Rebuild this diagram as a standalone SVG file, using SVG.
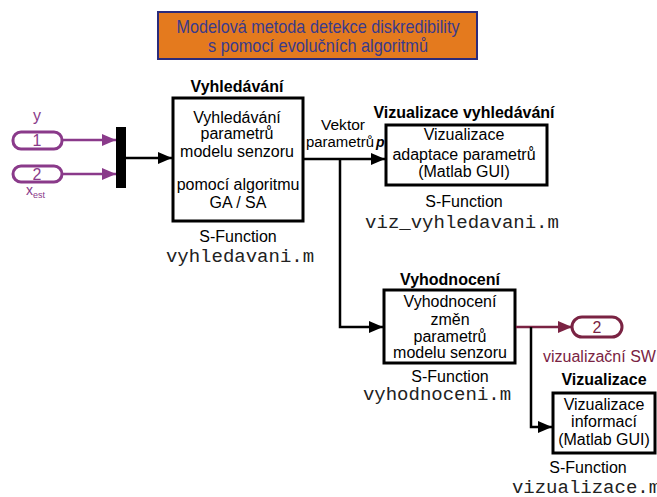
<svg xmlns="http://www.w3.org/2000/svg" width="657" height="497" viewBox="0 0 657 497">
<defs>
<style>
.t{font-family:"Liberation Sans",Arial,sans-serif;font-size:16px;text-anchor:middle;fill:#000}
.b{font-weight:bold}
.m{font-family:"Liberation Mono","Courier New",monospace;font-size:19px;text-anchor:middle;fill:#222}
.blk{fill:#fff;stroke:#000;stroke-width:3}
.c{fill:none;stroke:#000;stroke-width:2.5}
.cp{fill:none;stroke:#8a3a8a;stroke-width:2.5}
.cm{fill:none;stroke:#7a2343;stroke-width:2.5}
.port{fill:#fff;stroke:#8a3a8a;stroke-width:3}
.oport{fill:#fff;stroke:#7a2343;stroke-width:3}
</style>
<marker id="ab" markerUnits="userSpaceOnUse" markerWidth="14" markerHeight="12" refX="14" refY="6" orient="auto"><path d="M0 0L14 6L0 12z" fill="#000"/></marker>
<marker id="ap" markerUnits="userSpaceOnUse" markerWidth="14" markerHeight="12" refX="14" refY="6" orient="auto"><path d="M0 0L14 6L0 12z" fill="#8a3a8a"/></marker>
<marker id="am" markerUnits="userSpaceOnUse" markerWidth="14" markerHeight="12" refX="14" refY="6" orient="auto"><path d="M0 0L14 6L0 12z" fill="#7a2343"/></marker>
</defs>
<rect width="657" height="497" fill="#fff"/>

<g id="title">
<rect x="158" y="12" width="319" height="47" fill="#e47a1e" stroke="#2b2b7b" stroke-width="2"/>
<text x="318" y="33" style="font-family:'Liberation Sans',Arial,sans-serif;font-size:19px;fill:#3a3a8c;text-anchor:middle" textLength="283" lengthAdjust="spacingAndGlyphs">Modelová metoda detekce diskredibility</text>
<text x="318" y="52" style="font-family:'Liberation Sans',Arial,sans-serif;font-size:19px;fill:#3a3a8c;text-anchor:middle" textLength="220" lengthAdjust="spacingAndGlyphs">s pomocí evolučních algoritmů</text>
</g>

<g id="in1">
<rect class="port" x="13" y="132" width="49" height="17" rx="8"/>
<text x="37" y="146" style="font-family:'Liberation Sans',Arial,sans-serif;font-size:16px;fill:#8a3a8a;text-anchor:middle">1</text>
<text x="37" y="121" style="font-family:'Liberation Sans',Arial,sans-serif;font-size:16px;fill:#8a3a8a;text-anchor:middle">y</text>
</g>
<g id="in2">
<rect class="port" x="13" y="166" width="49" height="16" rx="8"/>
<text x="37" y="180" style="font-family:'Liberation Sans',Arial,sans-serif;font-size:16px;fill:#8a3a8a;text-anchor:middle">2</text>
<text x="26" y="195" style="font-family:'Liberation Sans',Arial,sans-serif;font-size:14px;fill:#8a3a8a">x<tspan font-size="9" dy="3">est</tspan></text>
</g>

<g id="mux">
<rect x="116" y="127" width="10" height="61" fill="#000"/>
</g>

<g id="vyhledavani">
<rect class="blk" x="173" y="98" width="130" height="123"/>
<text class="t b" x="237" y="92">Vyhledávání</text>
<text class="t" x="237" y="123">Vyhledávání</text>
<text class="t" x="237" y="139">parametrů</text>
<text class="t" x="237" y="157">modelu senzoru</text>
<text class="t" x="238" y="190">pomocí algoritmu</text>
<text class="t" x="238" y="208">GA / SA</text>
<text class="t" x="238" y="242">S-Function</text>
<text class="m" x="240" y="262">vyhledavani.m</text>
</g>

<g id="vizualizace_vyhledavani">
<rect class="blk" x="386" y="125" width="161" height="60"/>
<text class="t b" x="464" y="118">Vizualizace vyhledávání</text>
<text class="t" x="464" y="140">Vizualizace</text>
<text class="t" x="464" y="160">adaptace parametrů</text>
<text class="t" x="464" y="177">(Matlab GUI)</text>
<text class="t" x="464" y="207">S-Function</text>
<text class="m" x="462" y="228">viz_vyhledavani.m</text>
</g>

<g id="vyhodnoceni">
<rect class="blk" x="384" y="290" width="131" height="73"/>
<text class="t b" x="450" y="285">Vyhodnocení</text>
<text class="t" x="450" y="307">Vyhodnocení</text>
<text class="t" x="450" y="325">změn</text>
<text class="t" x="450" y="342">parametrů</text>
<text class="t" x="450" y="358">modelu senzoru</text>
<text class="t" x="450" y="382">S-Function</text>
<text class="m" x="437" y="400">vyhodnoceni.m</text>
</g>

<g id="out2">
<rect class="oport" x="572" y="317" width="50" height="20" rx="10"/>
<text x="597" y="333" style="font-family:'Liberation Sans',Arial,sans-serif;font-size:16px;fill:#7a2343;text-anchor:middle">2</text>
<text x="543" y="362" style="font-family:'Liberation Sans',Arial,sans-serif;font-size:16px;fill:#7a2343">vizualizační SW</text>
</g>

<g id="vizualizace">
<rect class="blk" x="553" y="393" width="102" height="60"/>
<text class="t b" x="604" y="385">Vizualizace</text>
<text class="t" x="604" y="410">Vizualizace</text>
<text class="t" x="604" y="427">informací</text>
<text class="t" x="604" y="445">(Matlab GUI)</text>
<text class="t" x="588" y="473">S-Function</text>
<text class="m" x="586" y="493">vizualizace.m</text>
</g>

<g id="vektor_label">
<text x="343" y="130" style="font-family:'Liberation Sans',Arial,sans-serif;font-size:14px;text-anchor:middle" textLength="44" lengthAdjust="spacingAndGlyphs">Vektor</text>
<text x="306" y="147" style="font-family:'Liberation Sans',Arial,sans-serif;font-size:14px" textLength="68" lengthAdjust="spacingAndGlyphs">parametrů</text>
<text x="376" y="147" style="font-family:'Liberation Sans',Arial,sans-serif;font-size:14px;font-weight:bold;font-style:italic">p</text>
</g>

<g id="connectors">
<path class="cp" d="M62 140H116" marker-end="url(#ap)"/>
<path class="cp" d="M62 174H116" marker-end="url(#ap)"/>
<path class="c" d="M126 158H172" marker-end="url(#ab)"/>
<path class="c" d="M303 159H385" marker-end="url(#ab)"/>
<path class="c" d="M340 159V327H383" marker-end="url(#ab)"/>
<path class="cm" d="M516 327H572" marker-end="url(#am)"/>
<path class="c" d="M531 327V427H552" marker-end="url(#ab)"/>
</g>
</svg>
